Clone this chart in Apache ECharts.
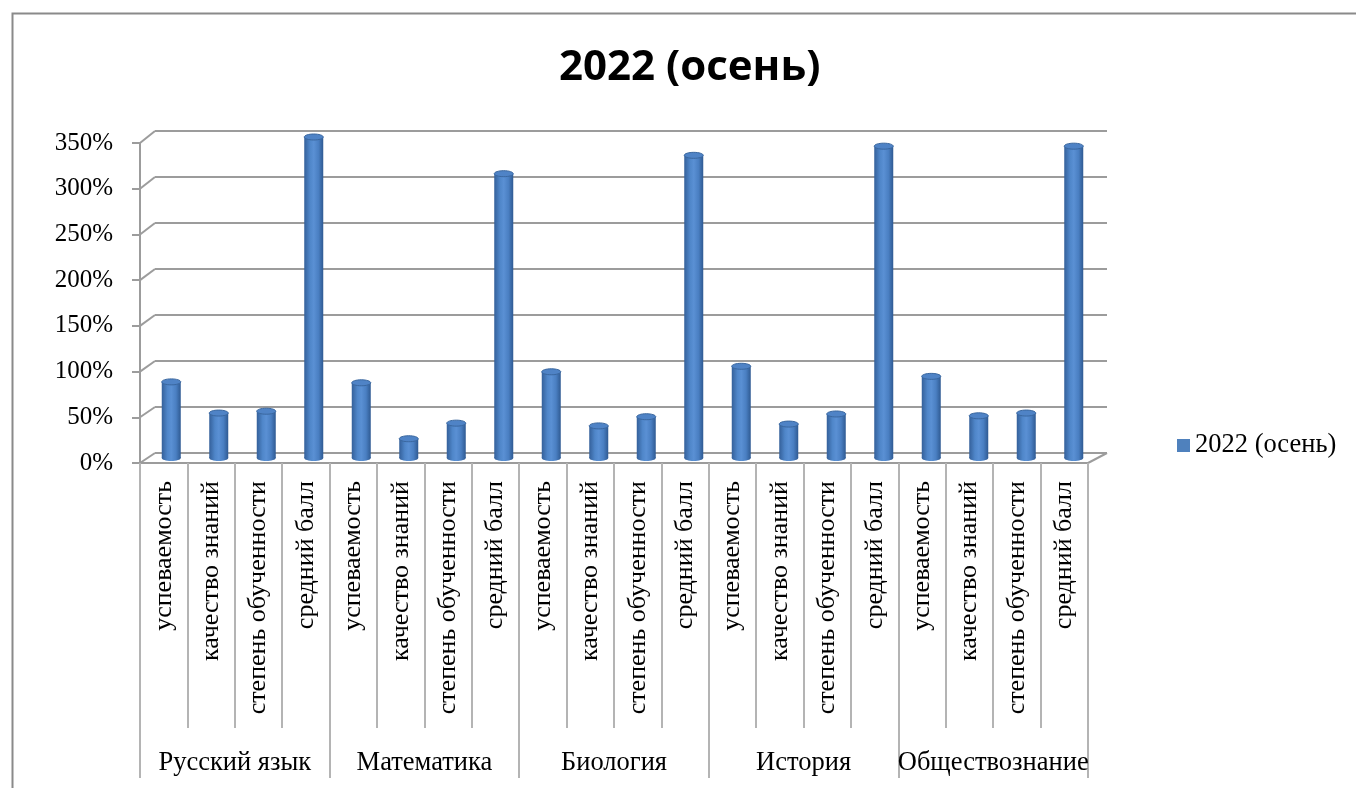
<!DOCTYPE html>
<html>
<head>
<meta charset="utf-8">
<script src="https://cdn.jsdelivr.net/npm/echarts@6/dist/echarts.min.js"></script>
<style>html,body{margin:0;padding:0;background:#fff}#c{width:1356px;height:788px}</style>
</head>
<body>
<div id="c"></div>
<script>
// ---- data ----
const title = '2022 (осень)';
const seriesName = '2022 (осень)';
const subjects = ['Русский язык', 'Математика', 'Биология', 'История', 'Обществознание'];
const indicators = ['успеваемость', 'качество знаний', 'степень обученности', 'средний балл'];
const russian = [83, 49, 51, 350];
const math = [82, 21, 38, 310];
const biology = [94, 35, 45, 330];
const history = [100, 37, 48, 340];
const social = [89, 46, 49, 340];
const yTicks = [0, 50, 100, 150, 200, 250, 300, 350];

// ---- build ----
const categories = subjects.flatMap(() => indicators);
const values = [].concat(russian, math, biology, history, social);
const barData = values.map((v, i) => [i, v]);

const front = {left: 140, right: 1088, top: 143, bottom: 463};
const back = {left: 155, right: 1107, top: 131, bottom: 453};
const mid = {left: 147.5, right: 1097.5, top: 137, bottom: 458};
const gridOf = g => ({left: g.left, width: g.right - g.left, top: g.top, height: g.bottom - g.top});

const SERIF = 'Liberation Serif';
const GRAY = '#9c9c9c';

const grad = new echarts.graphic.LinearGradient(0, 0, 1, 0, [
  {offset: 0, color: '#34609a'},
  {offset: 0.3, color: '#4f86c9'},
  {offset: 0.5, color: '#5a90d4'},
  {offset: 0.75, color: '#4a7fc2'},
  {offset: 1, color: '#2f5a92'}
]);

function renderItem(params, api) {
  const i = api.value(0), v = api.value(1);
  const top = api.coord([i, v]);
  const base = api.coord([i, 0]);
  const w = api.size([1, 0])[0] * 0.4;
  const rx = w / 2, ry = 3;
  return {
    type: 'group',
    children: [
      {type: 'ellipse', shape: {cx: base[0], cy: base[1], rx: rx, ry: ry}, style: {fill: grad}},
      {type: 'rect', shape: {x: top[0] - rx, y: top[1], width: w, height: base[1] - top[1]}, style: {fill: grad}},
      {type: 'ellipse', shape: {cx: top[0], cy: top[1], rx: rx, ry: ry}, style: {fill: '#4f83c6', stroke: '#3a679f', lineWidth: 1}}
    ]
  };
}

const chart = echarts.init(document.getElementById('c'), null, {renderer: 'canvas'});
const option = {
  animation: false,
  backgroundColor: '#fff',
  title: {
    text: title, left: 559, top: 47, padding: 0,
    textStyle: {fontFamily: 'Open Sans', fontWeight: 'bold', fontSize: 42, color: '#000'}
  },
  legend: {
    data: [seriesName], left: 1177, top: 432, padding: 0,
    icon: 'rect', itemWidth: 13, itemHeight: 13, itemGap: 7,
    textStyle: {fontFamily: SERIF, fontSize: 26.5, color: '#000'}
  },
  grid: [
    Object.assign(gridOf(back), {containLabel: false}),
    Object.assign(gridOf(front), {containLabel: false}),
    Object.assign(gridOf(mid), {containLabel: false})
  ],
  xAxis: [
    {type: 'category', gridIndex: 0, data: categories, show: false},
    {
      type: 'category', gridIndex: 1, data: categories, position: 'bottom',
      axisLine: {show: true, lineStyle: {color: GRAY, width: 2}},
      axisTick: {show: true, interval: 0, length: 265, lineStyle: {color: '#b4b4b4', width: 2}},
      axisLabel: {interval: 0, rotate: 90, margin: 18, fontFamily: SERIF, fontSize: 26, color: '#000'},
      splitLine: {show: false}
    },
    {
      type: 'category', gridIndex: 1, data: subjects, position: 'bottom',
      axisLine: {show: false},
      axisTick: {show: true, interval: 0, length: 315, lineStyle: {color: '#b4b4b4', width: 2}},
      axisLabel: {interval: 0, margin: 287, fontFamily: SERIF, fontSize: 26.5, color: '#000', overflow: 'none'},
      splitLine: {show: false}
    },
    {type: 'category', gridIndex: 2, data: categories, show: false}
  ],
  yAxis: [
    {
      type: 'value', gridIndex: 0, min: 0, max: 350, interval: 50,
      axisLine: {show: false}, axisTick: {show: false}, axisLabel: {show: false},
      splitLine: {show: true, lineStyle: {color: GRAY, width: 2}}
    },
    {
      type: 'value', gridIndex: 1, min: 0, max: 350, interval: 50,
      axisLine: {show: true, lineStyle: {color: GRAY, width: 2}},
      axisTick: {show: true, length: 8, lineStyle: {color: GRAY, width: 2}},
      axisLabel: {formatter: '{value}%', margin: 27, fontFamily: SERIF, fontSize: 25, color: '#000'},
      splitLine: {show: false}
    },
    {type: 'value', gridIndex: 2, min: 0, max: 350, interval: 50, show: false, splitLine: {show: false}}
  ],
  series: [{
    name: seriesName, type: 'custom', xAxisIndex: 3, yAxisIndex: 2,
    renderItem: renderItem, data: barData, encode: {x: 0, y: 1},
    itemStyle: {color: '#4f81bd'}
  }]
};
chart.setOption(option);

// depth (3D) connector lines from front axis to back wall, placed via the axes' scales
const graphics = [{
  type: 'rect', left: 10, top: 11, silent: true, z: -10,
  shape: {x: 0, y: 0, width: 1400, height: 820},
  style: {fill: null, stroke: '#8a8a8a', lineWidth: 2}
}];
yTicks.forEach(v => {
  const yf = chart.convertToPixel({yAxisIndex: 1}, v);
  const yb = chart.convertToPixel({yAxisIndex: 0}, v);
  graphics.push({type: 'line', silent: true, shape: {x1: front.left, y1: yf, x2: back.left, y2: yb},
    style: {stroke: GRAY, lineWidth: 2}});
});
const yf0 = chart.convertToPixel({yAxisIndex: 1}, 0);
const yb0 = chart.convertToPixel({yAxisIndex: 0}, 0);
graphics.push({type: 'line', silent: true, shape: {x1: front.right, y1: yf0, x2: back.right, y2: yb0},
  style: {stroke: GRAY, lineWidth: 2}});
chart.setOption({graphic: graphics});
</script>
</body>
</html>
